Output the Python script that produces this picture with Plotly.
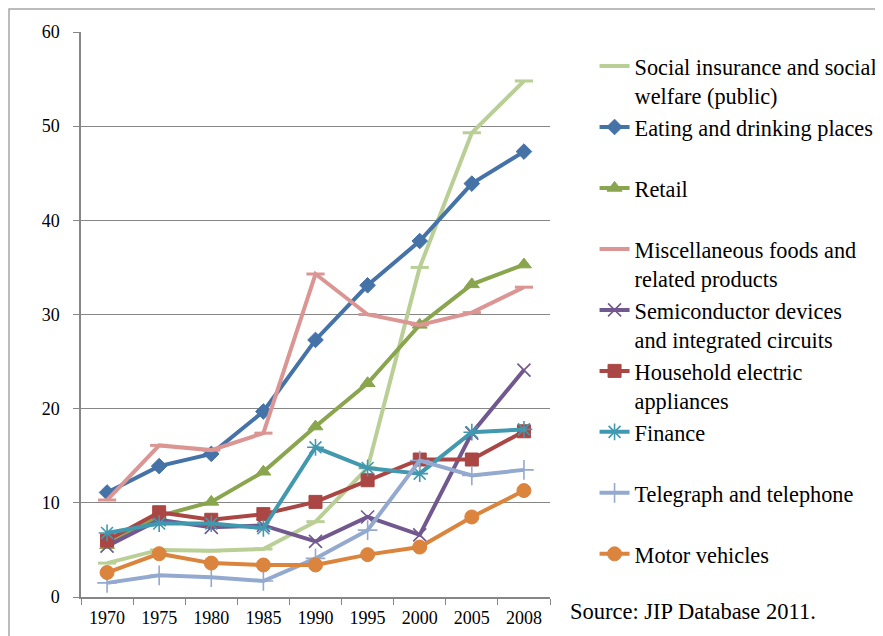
import plotly.graph_objects as go

years = ["1970", "1975", "1980", "1985", "1990", "1995", "2000", "2005", "2008"]

social_insurance = [3.6, 5.0, 4.9, 5.1, 8.0, 13.7, 35.0, 49.3, 54.8]
eating_drinking = [11.1, 13.9, 15.2, 19.7, 27.3, 33.1, 37.8, 43.9, 47.3]
retail = [5.5, 8.6, 10.1, 13.3, 18.1, 22.7, 28.9, 33.2, 35.3]
misc_foods = [10.3, 16.1, 15.6, 17.4, 34.3, 30.0, 28.9, 30.2, 32.9]
semiconductor = [5.4, 8.2, 7.4, 7.6, 5.9, 8.5, 6.6, 17.4, 24.1]
household = [6.0, 9.0, 8.2, 8.8, 10.1, 12.4, 14.6, 14.6, 17.6]
finance = [6.8, 7.8, 7.8, 7.3, 15.9, 13.7, 13.1, 17.5, 17.8]
telegraph = [1.5, 2.3, 2.1, 1.7, 4.1, 7.1, 14.5, 12.9, 13.5]
motor_vehicles = [2.6, 4.6, 3.6, 3.4, 3.4, 4.5, 5.3, 8.5, 11.3]

FONT = "Liberation Serif"

series = [
    ("Social insurance and social<br>welfare (public)", social_insurance, "#B9CF96", "line-ew-open", 13, 3),
    ("Eating and drinking places<br> ", eating_drinking, "#4572A7", "diamond", 12, 1),
    ("Retail<br> ", retail, "#89A54E", "triangle-up", 13, 1),
    ("Miscellaneous foods and<br>related products", misc_foods, "#DB9694", "line-ew-open", 13, 3),
    ("Semiconductor devices<br>and integrated circuits", semiconductor, "#71588F", "x-thin-open", 13, 1.6),
    ("Household electric<br>appliances", household, "#AA4643", "square", 13, 1),
    ("Finance<br> ", finance, "#4198AF", "asterisk-open", 14, 1.6),
    ("Telegraph and telephone<br> ", telegraph, "#93A9CF", "cross-thin-open", 14, 1.6),
    ("Motor vehicles<br> ", motor_vehicles, "#DB843D", "circle", 14, 1),
]

fig = go.Figure()
for i, (name, vals, color, sym, size, mlw) in enumerate(series):
    fig.add_trace(go.Scatter(
        x=years, y=vals, name=name, mode="lines+markers",
        legendgroup=f"g{i}",
        line=dict(color=color, width=4),
        marker=dict(symbol=sym, size=size, color=color,
                    line=dict(color=color, width=mlw)),
    ))

fig.update_layout(
    width=883, height=636,
    margin=dict(l=73, r=341, t=24, b=47, autoexpand=False),
    paper_bgcolor="white", plot_bgcolor="white",
    font=dict(family=FONT, color="black"),
    showlegend=True,
    legend=dict(
        x=1.095, xanchor="left", y=0.977, yanchor="top",
        font=dict(family=FONT, size=22.3, color="black"),
        valign="top", tracegroupgap=0,
        traceorder="grouped",
        bgcolor="rgba(0,0,0,0)",
    ),
    xaxis=dict(
        type="category", tickson="boundaries", ticks="outside", ticklen=6,
        tickcolor="#868686", showline=True, linecolor="#868686", linewidth=1.5,
        showgrid=False, tickfont=dict(family=FONT, size=18), range=[-0.5, 8.5],
        ticklabelstandoff=4,
    ),
    yaxis=dict(
        range=[0, 60], dtick=10, ticks="outside", ticklen=6, tickcolor="#868686",
        showline=True, linecolor="#868686", linewidth=1.5,
        showgrid=True, gridcolor="#868686", gridwidth=1,
        tickfont=dict(family=FONT, size=18), ticklabelstandoff=10, zeroline=False,
    ),
    shapes=[dict(type="rect", xref="paper", yref="paper",
                 x0=-0.1535, x1=2.0, y0=-0.3, y1=1.0407,
                 line=dict(color="#A6A6A6", width=1.5), layer="below")],
    annotations=[dict(text="Source: JIP Database 2011.", xref="paper", yref="paper",
                      x=1.039, y=0.0, xanchor="left", yanchor="top",
                      showarrow=False, font=dict(family=FONT, size=22.5, color="black"))],
)

fig.write_html("out.html")
